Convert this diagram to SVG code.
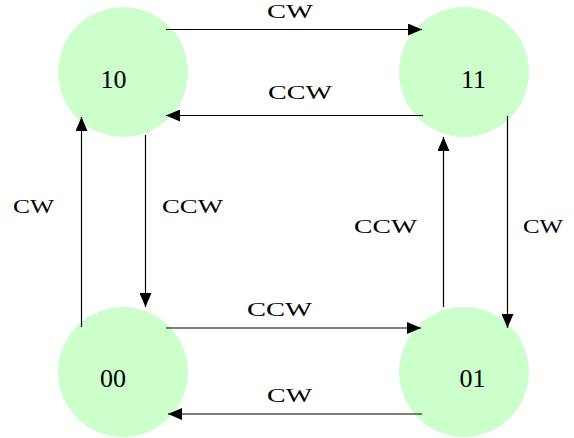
<svg xmlns="http://www.w3.org/2000/svg" width="574" height="438" viewBox="0 0 574 438">
<style>
.node circle{fill:#ccffcc;stroke:none}
.node text{font-family:"Liberation Serif","Times New Roman",serif;font-size:26px;fill:#000;text-anchor:middle}
.lbl{font-family:"Liberation Serif","Times New Roman",serif;font-size:19px;fill:#000}
.conn path{stroke:#000;stroke-width:1.2;fill:none;marker-end:url(#ah)}
</style>
<defs>
<marker id="ah" markerUnits="userSpaceOnUse" markerWidth="14" markerHeight="12" refX="14" refY="6" orient="auto">
<path d="M0,0 L14,6 L0,12 z" fill="#000"/>
</marker>
</defs>
<rect width="574" height="438" fill="#fff"/>
<g id="n10" class="node"><circle cx="123" cy="72" r="65"/><text x="113.5" y="88">10</text></g>
<g id="n11" class="node"><circle cx="464" cy="72" r="65"/><text x="473.5" y="88">11</text></g>
<g id="n00" class="node"><circle cx="123" cy="372" r="65"/><text x="113" y="387">00</text></g>
<g id="n01" class="node"><circle cx="464" cy="372" r="65"/><text x="472.5" y="387">01</text></g>
<g id="connectors" class="conn">
<path d="M166 29.5 H422"/>
<path d="M423 115.5 H166"/>
<path d="M81.5 327 V117"/>
<path d="M145.5 135 V307"/>
<path d="M166 328 H421"/>
<path d="M422 414 H168"/>
<path d="M443.5 307 V137"/>
<path d="M507.5 116 V328"/>
</g>
<g id="labels">
<text class="lbl" x="267" y="18" textLength="46" lengthAdjust="spacingAndGlyphs">CW</text>
<text class="lbl" x="268" y="99" textLength="64" lengthAdjust="spacingAndGlyphs">CCW</text>
<text class="lbl" x="13" y="213" textLength="41" lengthAdjust="spacingAndGlyphs">CW</text>
<text class="lbl" x="162" y="213" textLength="61" lengthAdjust="spacingAndGlyphs">CCW</text>
<text class="lbl" x="354" y="233" textLength="63" lengthAdjust="spacingAndGlyphs">CCW</text>
<text class="lbl" x="523" y="233" textLength="40" lengthAdjust="spacingAndGlyphs">CW</text>
<text class="lbl" x="247" y="316" textLength="65" lengthAdjust="spacingAndGlyphs">CCW</text>
<text class="lbl" x="267" y="402" textLength="45" lengthAdjust="spacingAndGlyphs">CW</text>
</g>
</svg>
